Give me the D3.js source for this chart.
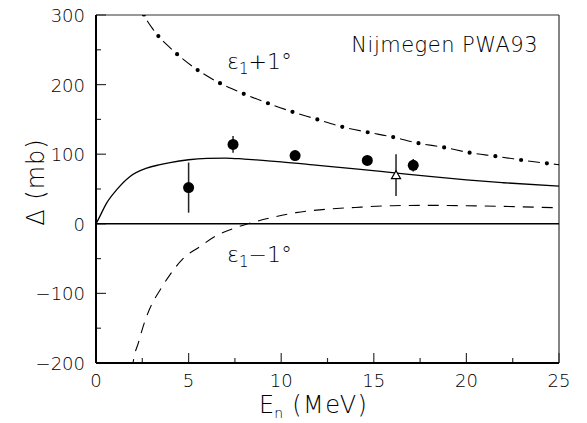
<!DOCTYPE html>
<html>
<head>
<meta charset="utf-8">
<script src="https://cdnjs.cloudflare.com/ajax/libs/d3/7.8.5/d3.min.js"></script>
<style>
  body { margin: 0; background: #fff; }
  text { font-family: "DejaVu Sans", "Liberation Sans", sans-serif; font-weight: 200; fill: #000; }
</style>
</head>
<body>
<div id="chart"></div>
<script>
// central PWA93 prediction
var solidE = [0, 0.12, 0.58, 1.12, 1.84, 2.74, 3.46, 4, 5, 6, 7, 8, 9, 10, 12, 14, 16, 18, 20, 22, 25];
var solidV = [0, 6, 30, 49, 68, 80, 85, 88, 92, 94, 94.5, 93, 91, 89, 84, 79, 73.5, 68, 63, 59, 54];

// eps1 + 1 deg
var plusE = [2.5, 2.6, 3.15, 4.16, 5.27, 6.48, 7.78, 9.1, 10.48, 11.83, 13.2, 14.58, 15.97, 17.37, 18.75, 20.2, 21.6, 23.97, 25];
var plusV = [306, 300, 277, 249, 225, 205, 189, 175, 162, 151, 140, 132, 125, 116, 110, 102, 97, 88, 85];

// eps1 - 1 deg
var minusE = [1.95, 2.0, 2.3, 2.6, 2.9, 3.46, 4.0, 4.7, 5.6, 6.5, 7.5, 8.2, 9.5, 10.8, 12.5, 14, 16, 18, 20, 22, 25];
var minusV = [-210, -200, -170, -143, -122, -95, -73, -50, -33, -17, -6, 0, 9, 16, 21, 23.5, 26, 26.5, 26, 25, 23];

// measurements
var dotE = [5.0, 7.4, 10.75, 14.65, 17.13];
var dotV = [52, 114, 98, 91, 84];
var dotErr = [36, 12, 7, 7, 9];

var triE = [16.2];
var triV = [70];
var triErr = [30];

var xTicks = [0, 5, 10, 15, 20, 25];
var yTicks = [-200, -100, 0, 100, 200, 300];

var width = 587, height = 423;
var margin = {left: 96, right: 28, top: 15, bottom: 60};

var x = d3.scaleLinear().domain([0, 25]).range([margin.left, width - margin.right]);
var y = d3.scaleLinear().domain([-200, 300]).range([height - margin.bottom, margin.top]);

var svg = d3.select("#chart")
    .append("svg")
    .attr("width", width)
    .attr("height", height);

svg.append("clipPath").attr("id", "clip")
    .append("rect")
    .attr("x", x(0)).attr("y", y(300))
    .attr("width", x(25) - x(0)).attr("height", y(-200) - y(300));

// frame: top and right thin
svg.append("line")
    .attr("x1", x(0)).attr("x2", x(25)).attr("y1", y(300)).attr("y2", y(300))
    .style("stroke", "#333").style("stroke-width", 1.2);
svg.append("line")
    .attr("x1", x(25)).attr("x2", x(25)).attr("y1", y(300)).attr("y2", y(-200))
    .style("stroke", "#333").style("stroke-width", 1.2);

// bottom axis, ticks pointing inward
var xMinor = d3.range(2.5, 25, 5);
svg.selectAll(".xmaj").data(xTicks).enter().append("line")
    .attr("x1", function(d){ return x(d); }).attr("x2", function(d){ return x(d); })
    .attr("y1", y(-200)).attr("y2", y(-200) - 10)
    .style("stroke", "#333").style("stroke-width", 1.2);
svg.selectAll(".xmin").data(xMinor).enter().append("line")
    .attr("x1", function(d){ return x(d); }).attr("x2", function(d){ return x(d); })
    .attr("y1", y(-200)).attr("y2", y(-200) - 5)
    .style("stroke", "#333").style("stroke-width", 1.2);
svg.selectAll(".xlab").data(xTicks).enter().append("text")
    .attr("x", function(d){ return x(d); })
    .attr("y", y(-200) + 24)
    .attr("text-anchor", "middle")
    .style("font-size", "18px")
    .text(function(d){ return d; });

// left axis
var yMinor = d3.range(-150, 300, 100);
svg.selectAll(".ymaj").data(yTicks).enter().append("line")
    .attr("x1", x(0)).attr("x2", x(0) + 10)
    .attr("y1", function(d){ return y(d); }).attr("y2", function(d){ return y(d); })
    .style("stroke", "#333").style("stroke-width", 1.2);
svg.selectAll(".ymin").data(yMinor).enter().append("line")
    .attr("x1", x(0)).attr("x2", x(0) + 5)
    .attr("y1", function(d){ return y(d); }).attr("y2", function(d){ return y(d); })
    .style("stroke", "#333").style("stroke-width", 1.2);
svg.selectAll(".ylab").data(yTicks).enter().append("text")
    .attr("x", x(0) - 11)
    .attr("y", function(d){ return y(d) + 7; })
    .attr("text-anchor", "end")
    .style("font-size", "18px")
    .text(function(d){ return d < 0 ? "\u2212" + Math.abs(d) : d; });

svg.append("line")
    .attr("x1", x(0)).attr("x2", x(0)).attr("y1", y(300)).attr("y2", y(-200))
    .style("stroke", "#000").style("stroke-width", 2);
svg.append("line")
    .attr("x1", x(0)).attr("x2", x(25)).attr("y1", y(-200)).attr("y2", y(-200))
    .style("stroke", "#000").style("stroke-width", 2);

// zero line
svg.append("line")
    .attr("x1", x(0)).attr("x2", x(25)).attr("y1", y(0)).attr("y2", y(0))
    .style("stroke", "#000").style("stroke-width", 1.5);

var line = d3.line()
    .x(function(d){ return x(d[0]); })
    .y(function(d){ return y(d[1]); })
    .curve(d3.curveMonotoneX);

var plot = svg.append("g").attr("clip-path", "url(#clip)");

plot.append("path")
    .attr("d", line(d3.zip(solidE, solidV)))
    .style("fill", "none").style("stroke", "#000").style("stroke-width", 1.3);

var plusPath = line(d3.zip(plusE, plusV));
plot.append("path")
    .attr("d", plusPath)
    .style("fill", "none").style("stroke", "#000").style("stroke-width", 1.1)
    .style("stroke-dasharray", "0,7,12,7")
    .style("stroke-dashoffset", -4);
plot.append("path")
    .attr("d", plusPath)
    .style("fill", "none").style("stroke", "#000").style("stroke-width", 4.2)
    .style("stroke-linecap", "round")
    .style("stroke-dasharray", "0,26")
    .style("stroke-dashoffset", -4);

plot.append("path")
    .attr("d", line(d3.zip(minusE, minusV)))
    .style("fill", "none").style("stroke", "#000").style("stroke-width", 1.1)
    .style("stroke-dasharray", "11,8");

// error bars
svg.selectAll(".err").data(d3.zip(dotE, dotV, dotErr).concat(d3.zip(triE, triV, triErr)))
    .enter().append("line")
    .attr("x1", function(d){ return x(d[0]); }).attr("x2", function(d){ return x(d[0]); })
    .attr("y1", function(d){ return y(d[1] + d[2]); })
    .attr("y2", function(d){ return y(d[1] - d[2]); })
    .style("stroke", "#222").style("stroke-width", 1.5);

svg.selectAll(".dot").data(d3.zip(dotE, dotV)).enter().append("circle")
    .attr("cx", function(d){ return x(d[0]); })
    .attr("cy", function(d){ return y(d[1]); })
    .attr("r", 5.5)
    .style("fill", "#000");

var tri = d3.symbol().type(d3.symbolTriangle).size(36);
svg.selectAll(".tri").data(d3.zip(triE, triV)).enter().append("path")
    .attr("d", tri)
    .attr("transform", function(d){ return "translate(" + x(d[0]) + "," + (y(d[1]) + 1) + ")"; })
    .style("fill", "#fff").style("stroke", "#000").style("stroke-width", 1.2);

// labels
svg.append("text")
    .attr("x", 538).attr("y", 52)
    .attr("text-anchor", "end")
    .style("font-size", "21px")
    .style("letter-spacing", "0.5px")
    .text("Nijmegen PWA93");

var lp = svg.append("text").attr("x", 227).attr("y", 69).style("font-size", "22px");
lp.append("tspan").text("\u03b5");
lp.append("tspan").attr("dy", 5).style("font-size", "15px").text("1");
lp.append("tspan").attr("dy", -5).text("+1\u00b0");

var lm = svg.append("text").attr("x", 227).attr("y", 262).style("font-size", "22px");
lm.append("tspan").text("\u03b5");
lm.append("tspan").attr("dy", 5).style("font-size", "15px").text("1");
lm.append("tspan").attr("dy", -5).text("\u22121\u00b0");

var xt = svg.append("text").attr("x", 259).attr("y", 413).style("font-size", "24px");
xt.append("tspan").text("E");
xt.append("tspan").attr("dy", 5).style("font-size", "14px").text("n");
xt.append("tspan").attr("dy", -5).style("letter-spacing", "1.5px").text(" (MeV)");

svg.append("text")
    .attr("transform", "translate(44,182) rotate(-90)")
    .attr("text-anchor", "middle")
    .style("font-size", "24px")
    .style("letter-spacing", "1px")
    .text("\u0394 (mb)");
</script>
</body>
</html>
